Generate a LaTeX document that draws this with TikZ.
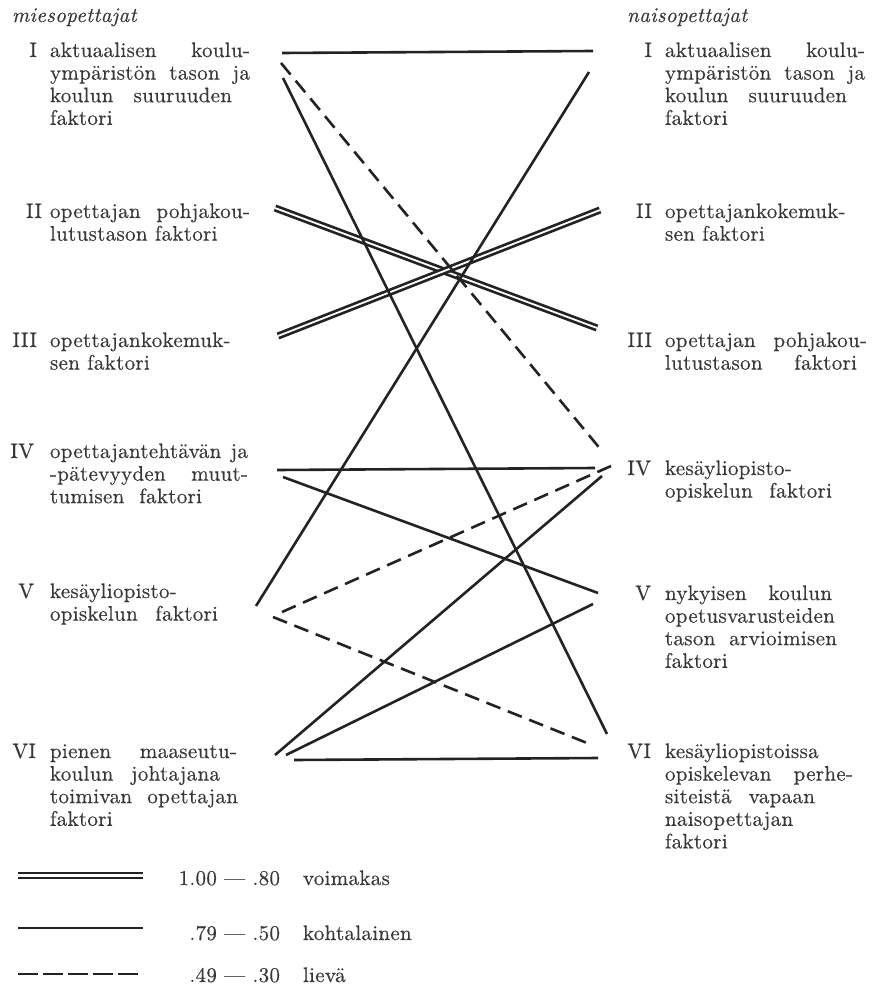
\documentclass[tikz,border=0pt]{standalone}
\usepackage{fontspec}
\setmainfont{lmroman10-regular.otf}[ItalicFont=lmroman10-italic.otf,LetterSpace=1.5,FakeBold=0.4]
\definecolor{ink}{HTML}{232323}
\definecolor{txt}{HTML}{383838}
\newcommand\JL[2]{\hbox{\makebox[#1pt][s]{#2}}}
\newcommand\NL[1]{\hbox{#1}}
\begin{document}
\begin{tikzpicture}[x=1pt,y=-1pt,
  lab/.style={inner sep=0pt,outer sep=0pt,text=txt,font=\fontsize{21}{22.6}\selectfont},
  conn/.style={draw=ink,line width=2.6pt},
  dashconn/.style={draw=ink,line width=2.6pt,dash pattern=on 15pt off 8pt},
  dbl/.style={draw=ink,line width=2.7pt,double=white,double distance=1.8pt}]
\path[fill=white] (0,0) rectangle (878,987);
\useasboundingbox (0,0) rectangle (878,987);

% headers
\node[lab,anchor=base west,font=\fontsize{21}{22.6}\selectfont\itshape] (hm) at (12,22) {miesopettajat};
\node[lab,anchor=base west,font=\fontsize{21}{22.6}\selectfont\itshape] (hf) at (627,22) {naisopettajat};

% left labels
\node[lab,anchor=base east] (mn1) at (37,57) {I};
\node[lab,anchor=base west] (m1) at (50,57) {\vtop{\JL{200}{aktuaalisen koulu-}\JL{200}{ympäristön tason ja}\JL{182}{koulun suuruuden}\NL{faktori}}};
\node[lab,anchor=base east] (mn2) at (42,218) {II};
\node[lab,anchor=base west] (m2) at (50,218) {\vtop{\JL{200}{opettajan pohjakou-}\NL{lutustason faktori}}};
\node[lab,anchor=base east] (mn3) at (37,347) {III};
\node[lab,anchor=base west] (m3) at (50,347) {\vtop{\NL{opettajankokemuk-}\NL{sen faktori}}};
\node[lab,anchor=base east] (mn4) at (34,458) {IV};
\node[lab,anchor=base west] (m4) at (50,458) {\vtop{\JL{198}{opettajantehtävän ja}\JL{198}{-pätevyyden muut-}\JL{152}{tumisen faktori}}};
\node[lab,anchor=base east] (mn5) at (34,598) {V};
\node[lab,anchor=base west] (m5) at (50,598) {\vtop{\NL{kesäyliopisto-}\JL{168}{opiskelun faktori}}};
\node[lab,anchor=base east] (mn6) at (36,758) {VI};
\node[lab,anchor=base west] (m6) at (50,758) {\vtop{\JL{187}{pienen maaseutu-}\JL{170}{koulun johtajana}\JL{188}{toimivan opettajan}\NL{faktori}}};

% right labels
\node[lab,anchor=base east] (fn1) at (652,57) {I};
\node[lab,anchor=base west] (f1) at (665,57) {\vtop{\JL{200}{aktuaalisen koulu-}\JL{200}{ympäristön tason ja}\JL{182}{koulun suuruuden}\NL{faktori}}};
\node[lab,anchor=base east] (fn2) at (652,218) {II};
\node[lab,anchor=base west] (f2) at (665,218) {\vtop{\NL{opettajankokemuk-}\NL{sen faktori}}};
\node[lab,anchor=base east] (fn3) at (652,347) {III};
\node[lab,anchor=base west] (f3) at (665,347) {\vtop{\JL{202}{opettajan pohjakou-}\JL{192}{lutustason faktori}}};
\node[lab,anchor=base east] (fn4) at (651,475) {IV};
\node[lab,anchor=base west] (f4) at (665,475) {\vtop{\NL{kesäyliopisto-}\JL{167}{opiskelun faktori}}};
\node[lab,anchor=base east] (fn5) at (651,600) {V};
\node[lab,anchor=base west] (f5) at (665,600) {\vtop{\JL{167}{nykyisen koulun}\NL{opetusvarusteiden}\JL{172}{tason arvioimisen}\NL{faktori}}};
\node[lab,anchor=base east] (fn6) at (651,758) {VI};
\node[lab,anchor=base west] (f6) at (665,758) {\vtop{\NL{kesäyliopistoissa}\JL{188}{opiskelevan perhe-}\JL{150}{siteistä vapaan}\NL{naisopettajan}\NL{faktori}}};

% connector end points
\coordinate (a1) at (282,53);  \coordinate (b1) at (593,51);
\coordinate (a2) at (281,63);  \coordinate (b2) at (602,451);
\coordinate (a3) at (283,78);  \coordinate (b3) at (607,734);
\coordinate (a4) at (589,72);  \coordinate (b4) at (256,606);
\coordinate (a5) at (275,208); \coordinate (b5) at (597,328);
\coordinate (a6) at (278,336); \coordinate (b6) at (600,210);
\coordinate (a7) at (277,470); \coordinate (b7) at (595,468);
\coordinate (a8) at (283,477); \coordinate (b8) at (598,593);
\coordinate (a9) at (282,612); \coordinate (b9) at (611,466);
\coordinate (a10) at (273,617); \coordinate (b10) at (587,743);
\coordinate (a11) at (275,755); \coordinate (b11) at (602,476);
\coordinate (a12) at (286,755); \coordinate (b12) at (593,604);
\coordinate (a13) at (294,760); \coordinate (b13) at (598,758);

% strong (double)
\draw[dbl] (a5) -- (b5);
\draw[dbl] (a6) -- (b6);
% moderate (solid)
\draw[conn] (a1) -- (b1);
\draw[conn] (a3) -- (b3);
\draw[conn] (a4) -- (b4);
\draw[conn] (a7) -- (b7);
\draw[conn] (a8) -- (b8);
\draw[conn] (a11) -- (b11);
\draw[conn] (a12) -- (b12);
\draw[conn] (a13) -- (b13);
% slight (dashed)
\draw[dashconn] (a2) -- (b2);
\draw[dashconn] (a9) -- (b9);
\draw[dashconn] (a10) -- (b10);

% legend
\coordinate (l1a) at (18,875.5); \coordinate (l1b) at (143,875.5);
\coordinate (l2a) at (18,928);   \coordinate (l2b) at (143,928);
\coordinate (l3a) at (18,974);   \coordinate (l3b) at (143,974);
\draw[draw=ink,line width=2.8pt,double=white,double distance=2.2pt] (l1a) -- (l1b);
\draw[conn] (l2a) -- (l2b);
\draw[draw=ink,line width=2.8pt,dash pattern=on 20pt off 5pt] (l3a) -- (l3b);
\node[lab,anchor=base east] (v1) at (280,885) {1.00 — .80};
\node[lab,anchor=base west] (w1) at (303,885) {voimakas};
\node[lab,anchor=base east] (v2) at (280,940) {.79 — .50};
\node[lab,anchor=base west] (w2) at (303,940) {kohtalainen};
\node[lab,anchor=base east] (v3) at (280,982) {.49 — .30};
\node[lab,anchor=base west] (w3) at (303,982) {lievä};
\end{tikzpicture}
\end{document}
